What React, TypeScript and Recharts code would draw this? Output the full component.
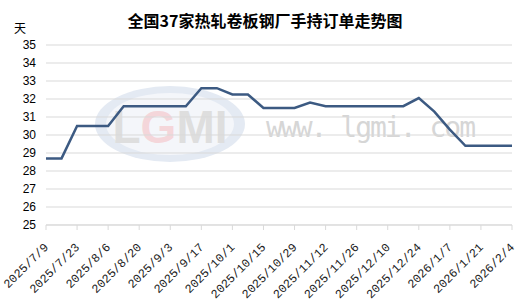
import React from 'react';
import { LineChart, Line, XAxis, YAxis, CartesianGrid } from 'recharts';

const dates = [
  '2025/7/9', '2025/7/16', '2025/7/23', '2025/7/30', '2025/8/6', '2025/8/13', '2025/8/20', '2025/8/27',
  '2025/9/3', '2025/9/10', '2025/9/17', '2025/9/24', '2025/10/1', '2025/10/8', '2025/10/15', '2025/10/22',
  '2025/10/29', '2025/11/5', '2025/11/12', '2025/11/19', '2025/11/26', '2025/12/3', '2025/12/10', '2025/12/17',
  '2025/12/24', '2025/12/31', '2026/1/7', '2026/1/14', '2026/1/21', '2026/1/28', '2026/2/4',
];

const days = [
  28.7, 28.7, 30.5, 30.5, 30.5, 31.6, 31.6, 31.6,
  31.6, 31.6, 32.6, 32.6, 32.25, 32.25, 31.5, 31.5,
  31.5, 31.8, 31.6, 31.6, 31.6, 31.6, 31.6, 31.6,
  32.05, 31.3, 30.3, 29.4, 29.4, 29.4, 29.4,
];

const yTicks = [25, 26, 27, 28, 29, 30, 31, 32, 33, 34, 35];

const title = '全国37家热轧卷板钢厂手持订单走势图';
const unit = '天';

const data = dates.map((d, i) => ({ date: d, value: days[i] }));

const DateTick = (props: any) => {
  const { x, y, payload } = props;
  const ax = x + 3;
  const ay = y + 16;
  return (
    <text
      x={ax}
      y={ay}
      transform={`rotate(-45, ${ax}, ${ay})`}
      textAnchor="end"
      fontSize={12}
      fontFamily="'Liberation Mono', monospace"
      fill="#222"
    >
      {payload.value}
    </text>
  );
};

// faint LGMI watermark behind the plot
const Watermark = () => (
  <svg width={530} height={304} style={{ position: 'absolute', left: 0, top: 0 }}>
    <ellipse cx={170} cy={124} rx={75} ry={38} fill="#e4eaf3" />
    <ellipse cx={170} cy={124} rx={64} ry={31} fill="#f4f6fa" />
    <text x={170} y={143} textAnchor="middle" fontSize={46} fontWeight="bold" fontFamily="'Liberation Sans', sans-serif" fill="#dedede">
      L<tspan fill="#f4d6da">G</tspan>MI
    </text>
    <text x={370} y={137} textAnchor="middle" fontSize={28} fontFamily="'DejaVu Sans Mono', monospace" fill="#d6d6d6" letterSpacing={-2}>
      www. lgmi. com
    </text>
  </svg>
);

export default function App() {
  return (
    <div style={{ position: 'absolute', left: 0, top: 0, width: 530, height: 304, background: '#fff' }}>
      <Watermark />
      <div style={{ position: 'absolute', left: 0, top: 0 }}>
        <LineChart width={530} height={304} data={data} margin={{ top: 45, right: 18, left: 0, bottom: 0 }}>
          <text x={265} y={27} textAnchor="middle" fontSize={16} fontWeight="bold" fontFamily="'Noto Sans CJK SC', sans-serif" fill="#000">
            {title}
          </text>
          <text x={14} y={33} fontSize={12} fontFamily="'Noto Sans CJK SC', sans-serif" fill="#000">
            {unit}
          </text>
          <CartesianGrid horizontal vertical={false} stroke="#d9d9d9" strokeWidth={1} />
          <XAxis
            dataKey="date"
            interval={1}
            height={79}
            axisLine={{ stroke: '#d9d9d9' }}
            tickLine={{ stroke: '#d9d9d9' }}
            tickSize={5}
            tick={<DateTick />}
          />
          <YAxis
            domain={[25, 35]}
            ticks={yTicks}
            interval={0}
            width={46}
            axisLine={false}
            tickLine={false}
            tickMargin={4}
            tick={{ fontSize: 12, fill: '#000', fontFamily: "'Liberation Sans', sans-serif" }}
          />
          <Line
            type="linear"
            dataKey="value"
            stroke="#3c5a82"
            strokeWidth={2.5}
            dot={false}
            isAnimationActive={false}
          />
        </LineChart>
      </div>
    </div>
  );
}
